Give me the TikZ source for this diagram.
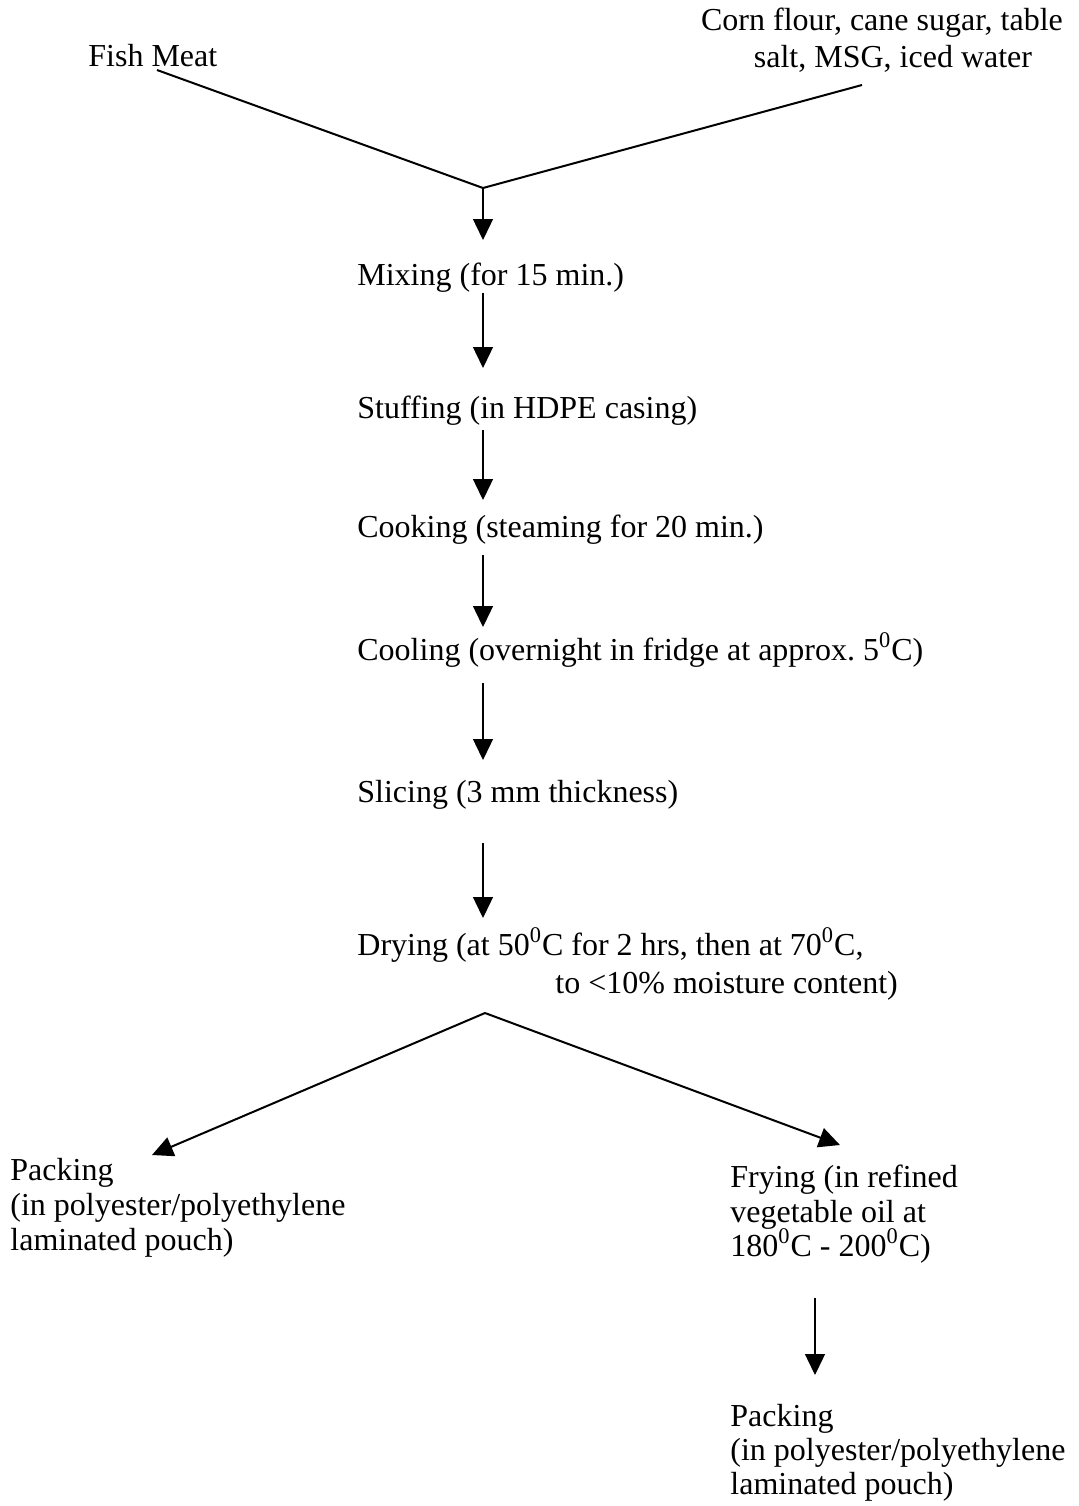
\documentclass[tikz,border=0pt]{standalone}
\usepackage{fontspec}
\setmainfont{Liberation Serif}
\usetikzlibrary{arrows.meta,calc}
\begin{document}
\begin{tikzpicture}[x=0.5pt,y=-0.5pt,
  txt/.style={inner sep=0pt,anchor=base west,font=\fontsize{16}{18.5}\selectfont},
  ctxt/.style={txt,anchor=base},
  feed/.style={line width=1pt},
  arr/.style={line width=0.7pt,-{Triangle[length=10.5pt,width=10pt]}},
  sarr/.style={line width=1pt,-{Triangle[length=10.5pt,width=10pt]}}]
\useasboundingbox[fill=white] (0,0) rectangle (1079,1506);
% inputs
\node[txt] (fish) at (88,66) {Fish Meat};
\node[ctxt] (corn1) at (882,30) {Corn flour, cane sugar, table};
\node[ctxt] (corn2) at (893,67) {salt, MSG, iced water};
\coordinate (j1) at (483,188);
\draw[feed] ($(fish.base west)+(69,4)$) -- (j1);
\draw[feed] ($(corn2.base)+(-31,18)$) -- (j1);
% steps
\node[txt] (mix) at (357,285) {Mixing (for 15 min.)};
\node[txt] (stuff) at (357,418) {Stuffing (in HDPE casing)};
\node[txt] (cook) at (357,537) {Cooking (steaming for 20 min.)};
\node[txt] (cool) at (357,660) {Cooling (overnight in fridge at approx.\ 5\textsuperscript{0}C)};
\node[txt] (slice) at (357,802) {Slicing (3 mm thickness)};
\node[txt] (dry) at (357,955) {Drying (at 50\textsuperscript{0}C for 2 hrs, then at 70\textsuperscript{0}C,};
\node[txt] (dry2) at (555,993) {to <10\% moisture content)};
\draw[arr] (j1) -- ($(mix.base -| j1)+(0,-45)$);
\draw[arr] ($(mix.base -| j1)+(0,8)$) -- ($(stuff.base -| j1)+(0,-50)$);
\draw[arr] ($(stuff.base -| j1)+(0,12)$) -- ($(cook.base -| j1)+(0,-37)$);
\draw[arr] ($(cook.base -| j1)+(0,18)$) -- ($(cool.base -| j1)+(0,-33)$);
\draw[arr] ($(cool.base -| j1)+(0,23)$) -- ($(slice.base -| j1)+(0,-42)$);
\draw[arr] ($(slice.base -| j1)+(0,41)$) -- ($(dry.base -| j1)+(0,-37)$);
% split
\coordinate (j2) at (485,1013);
\node[txt] (pack1) at (10,1180) {Packing};
\node[txt] (pack1b) at (10,1215) {(in polyester/polyethylene};
\node[txt] (pack1c) at (10,1250) {laminated pouch)};
\node[txt] (fry) at (730,1187) {Frying (in refined};
\node[txt] (fryb) at (730,1222) {vegetable oil at};
\node[txt] (fryc) at (730,1256) {180\textsuperscript{0}C - 200\textsuperscript{0}C)};
\draw[sarr] (j2) -- ($(pack1.base west)+(142,-25)$);
\draw[sarr] (j2) -- ($(fry.base west)+(110,-42)$);
\node[txt] (pack2) at (730,1426) {Packing};
\node[txt] (pack2b) at (730,1460) {(in polyester/polyethylene};
\node[txt] (pack2c) at (730,1494) {laminated pouch)};
\draw[arr] ($(fryc.base west)+(85,42)$) -- ($(pack2.base west)+(85,-51)$);
\end{tikzpicture}
\end{document}
